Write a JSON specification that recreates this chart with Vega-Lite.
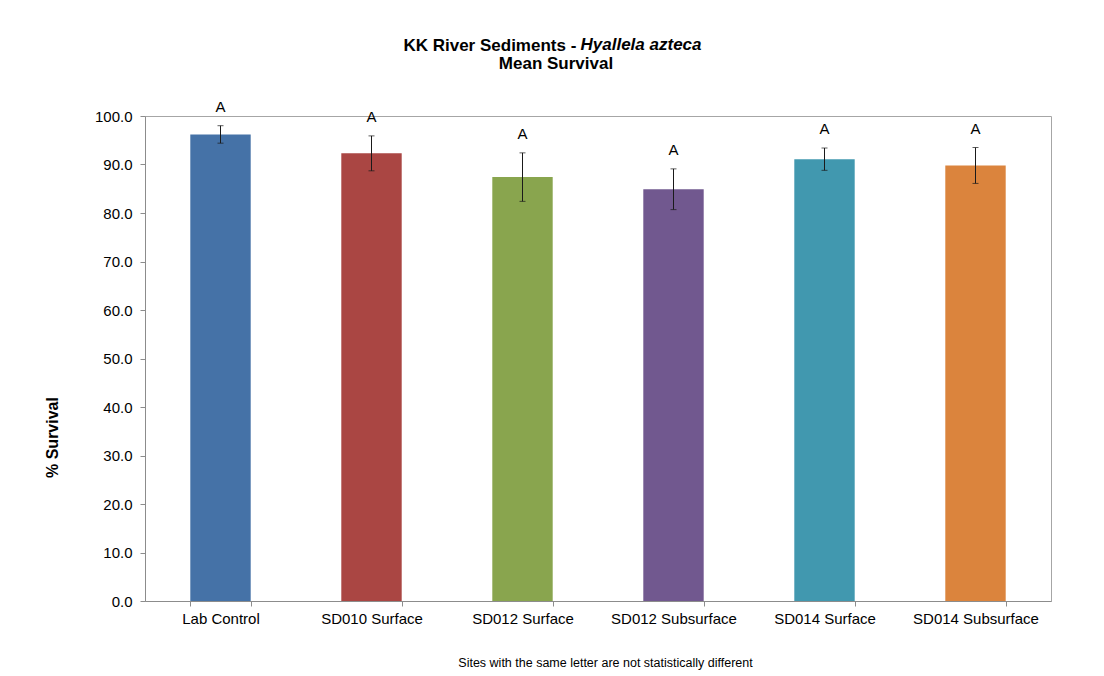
{
  "$schema": "https://vega.github.io/schema/vega-lite/v6.json",
  "width": 906,
  "height": 485,
  "autosize": {"type": "none"},
  "padding": {"left": 145, "top": 116, "right": 53, "bottom": 75},
  "background": "white",
  "config": {
    "font": "Liberation Sans",
    "view": {"stroke": "#A6A6A6", "strokeWidth": 1},
    "axisY": {
      "format": ".1f",
      "grid": false,
      "labelOverlap": false,
      "labelFont": "Liberation Sans",
      "labelFontSize": 15,
      "labelColor": "#000000",
      "labelPadding": 8,
      "tickSize": 5,
      "tickColor": "#8C8C8C",
      "domainColor": "#8C8C8C",
      "titleFont": "Liberation Sans",
      "titleFontSize": 16,
      "titleFontWeight": "bold",
      "titleColor": "#000000",
      "titleX": -93,
      "titleY": 321,
      "titleAngle": -90,
      "titleBaseline": "middle"
    }
  },
  "title": {
    "text": ["KK River Sediments -\u00a0\u00a0\u00a0\u00a0\u00a0\u00a0\u00a0\u00a0\u00a0\u00a0\u00a0\u00a0\u00a0\u00a0\u00a0\u00a0\u00a0\u00a0\u00a0\u00a0\u00a0\u00a0\u00a0\u00a0\u00a0\u00a0\u00a0\u00a0\u200b", "Mean Survival"],
    "subtitle": "\u200b\u00a0\u00a0\u00a0\u00a0\u00a0\u00a0\u00a0\u00a0\u00a0\u00a0\u00a0\u00a0\u00a0\u00a0\u00a0\u00a0\u00a0\u00a0\u00a0\u00a0\u00a0\u00a0\u00a0\u00a0\u00a0\u00a0\u00a0\u00a0\u00a0\u00a0\u00a0\u00a0\u00a0\u00a0\u00a0\u00a0Hyallela azteca",
    "frame": "group",
    "anchor": "middle",
    "dx": -42,
    "offset": 26,
    "font": "Liberation Sans",
    "fontSize": 17,
    "fontWeight": "bold",
    "lineHeight": 18.5,
    "color": "#000000",
    "subtitleFont": "Liberation Sans",
    "subtitleFontSize": 17,
    "subtitleFontWeight": "bold",
    "subtitleFontStyle": "italic",
    "subtitleColor": "#000000",
    "subtitlePadding": -36
  },
  "data": {
    "values": [
      {"site": "Lab Control", "mean": 96.2, "lower": 94.4, "upper": 98.0, "letter": "A"},
      {"site": "SD010 Surface", "mean": 92.3, "lower": 88.7, "upper": 95.9, "letter": "A"},
      {"site": "SD012 Surface", "mean": 87.4, "lower": 82.4, "upper": 92.4, "letter": "A"},
      {"site": "SD012 Subsurface", "mean": 84.9, "lower": 80.7, "upper": 89.1, "letter": "A"},
      {"site": "SD014 Surface", "mean": 91.1, "lower": 88.8, "upper": 93.4, "letter": "A"},
      {"site": "SD014 Subsurface", "mean": 89.8, "lower": 86.1, "upper": 93.5, "letter": "A"}
    ]
  },
  "encoding": {
    "x": {
      "field": "site",
      "type": "nominal",
      "sort": null,
      "scale": {"paddingInner": 0.6, "paddingOuter": 0.3},
      "axis": {
        "title": "Sites with the same letter are not statistically different",
        "titleFont": "Liberation Sans",
        "titleFontSize": 12.5,
        "titleFontWeight": "normal",
        "titleColor": "#000000",
        "titlePadding": 30,
        "titleX": 460,
        "labelAngle": 0,
        "labelFont": "Liberation Sans",
        "labelFontSize": 15,
        "labelColor": "#000000",
        "labelPadding": 5,
        "tickBand": "extent",
        "tickSize": 5,
        "tickColor": "#8C8C8C",
        "domainColor": "#8C8C8C"
      }
    }
  },
  "layer": [
    {
      "mark": {"type": "bar"},
      "encoding": {
        "y": {
          "field": "mean",
          "type": "quantitative",
          "scale": {"domain": [0, 100]},
          "axis": {"title": "% Survival", "tickCount": 20, "values": [0, 10, 20, 30, 40, 50, 60, 70, 80, 90, 100]}
        },
        "color": {
          "field": "site",
          "type": "nominal",
          "sort": null,
          "legend": null,
          "scale": {
            "domain": ["Lab Control", "SD010 Surface", "SD012 Surface", "SD012 Subsurface", "SD014 Surface", "SD014 Subsurface"],
            "range": ["#4572A7", "#AA4643", "#89A54E", "#71588F", "#4198AF", "#DB843D"]
          }
        }
      }
    },
    {
      "mark": {"type": "rule", "color": "#1a1a1a", "strokeWidth": 1},
      "encoding": {
        "y": {"field": "lower", "type": "quantitative", "axis": {"title": "% Survival", "tickCount": 20, "values": [0, 10, 20, 30, 40, 50, 60, 70, 80, 90, 100]}},
        "y2": {"field": "upper"}
      }
    },
    {
      "mark": {"type": "tick", "color": "#1a1a1a", "size": 6, "thickness": 1, "orient": "horizontal"},
      "encoding": {"y": {"field": "upper", "type": "quantitative", "axis": {"title": "% Survival", "tickCount": 20, "values": [0, 10, 20, 30, 40, 50, 60, 70, 80, 90, 100]}}}
    },
    {
      "mark": {"type": "tick", "color": "#1a1a1a", "size": 6, "thickness": 1, "orient": "horizontal"},
      "encoding": {"y": {"field": "lower", "type": "quantitative", "axis": {"title": "% Survival", "tickCount": 20, "values": [0, 10, 20, 30, 40, 50, 60, 70, 80, 90, 100]}}}
    },
    {
      "mark": {"type": "text", "font": "Liberation Sans", "fontSize": 15, "color": "#000000", "baseline": "middle", "dy": -19},
      "encoding": {
        "y": {"field": "upper", "type": "quantitative", "axis": {"title": "% Survival", "tickCount": 20, "values": [0, 10, 20, 30, 40, 50, 60, 70, 80, 90, 100]}},
        "text": {"field": "letter"}
      }
    }
  ]
}
